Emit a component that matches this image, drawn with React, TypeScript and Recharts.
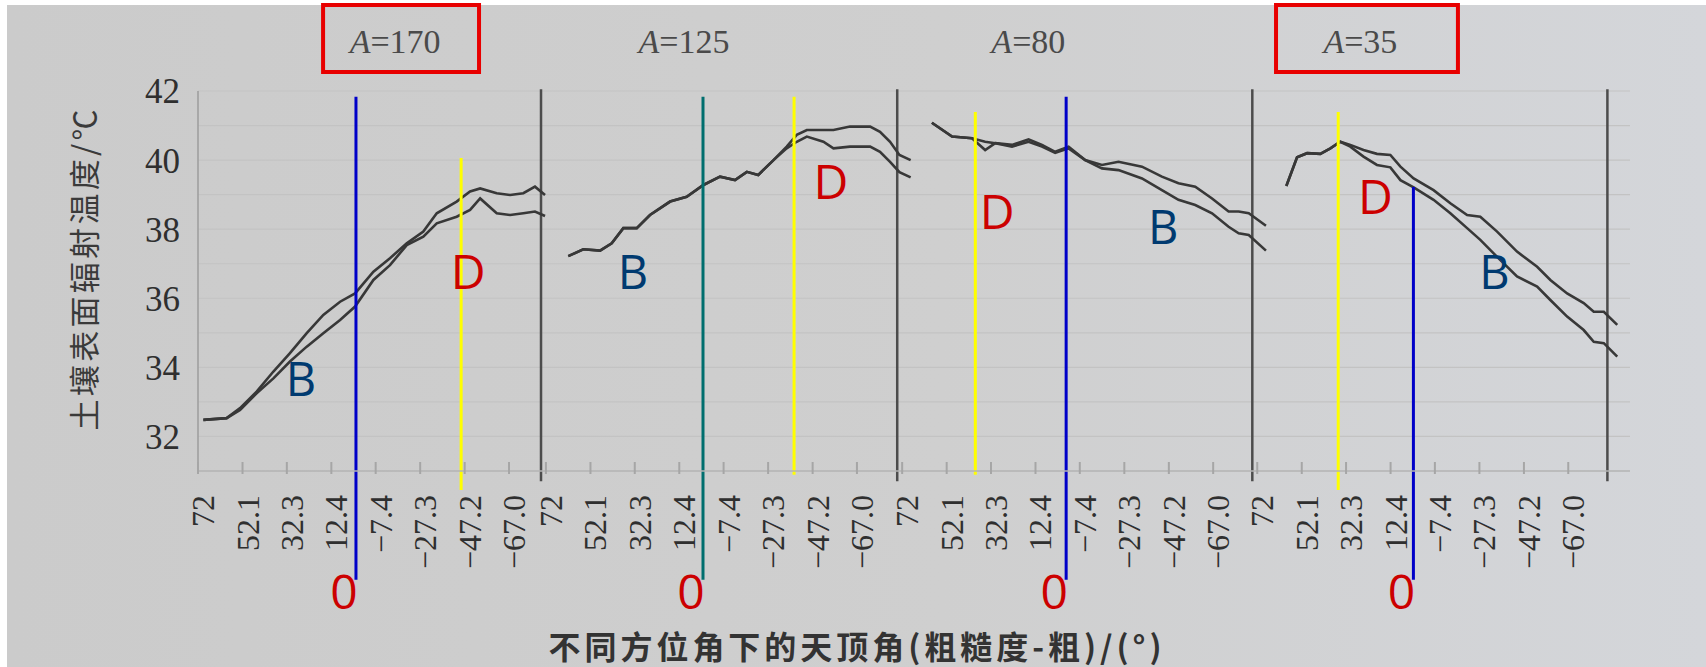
import { CartesianGrid, Line, LineChart, ReferenceArea, ReferenceDot, ReferenceLine, XAxis, YAxis } from "recharts"

// azimuth of each panel, left to right
const azimuths = ["170", "125", "80", "35"]
const boxedPanels = [0, 3]

const zenithTicks = [72, 52.1, 32.3, 12.4, -7.4, -27.3, -47.2, -67.0]
const zenithTickLabels = ["72", "52.1", "32.3", "12.4", "−7.4", "−27.3", "−47.2", "−67.0"]
const tempTicks = [32, 34, 36, 38, 40, 42]
const gridTemps = [32, 33, 34, 35, 36, 37, 38, 39, 40, 41, 42]

// A=170
const a170Zenith = [69.6, 59.2, 53.2, 45.8, 38.3, 30.9, 23.4, 16.0, 8.5, 1.8, -6.4, -13.8, -21.3, -28.7, -34.7, -43.6, -49.6, -54.1, -61.5, -67.5, -73.4, -78.6, -83.1]
const a170Upper = [32.48, 32.53, 32.82, 33.3, 33.88, 34.41, 34.99, 35.52, 35.9, 36.14, 36.77, 37.16, 37.59, 37.93, 38.46, 38.8, 39.09, 39.18, 39.04, 38.99, 39.04, 39.23, 38.99]
const a170Lower = [32.48, 32.53, 32.77, 33.25, 33.68, 34.17, 34.6, 34.99, 35.37, 35.76, 36.53, 36.96, 37.54, 37.78, 38.17, 38.36, 38.56, 38.89, 38.46, 38.41, 38.46, 38.51, 38.38]

// A=125
const a125Zenith = [62.0, 55.3, 47.8, 42.6, 37.4, 31.4, 25.5, 16.5, 9.1, 1.6, -5.8, -12.5, -17.8, -22.9, -29.7, -35.6, -40.1, -44.6, -52.0, -56.5, -63.9, -72.9, -77.3, -81.8, -86.0, -91.0]
const a125Upper = [37.22, 37.42, 37.38, 37.59, 38.03, 38.03, 38.41, 38.8, 38.94, 39.28, 39.52, 39.42, 39.66, 39.57, 40.0, 40.39, 40.73, 40.87, 40.87, 40.87, 40.97, 40.97, 40.82, 40.53, 40.15, 40.0]
const a125Lower = [37.22, 37.42, 37.38, 37.59, 38.03, 38.03, 38.41, 38.8, 38.94, 39.28, 39.52, 39.42, 39.66, 39.57, 40.0, 40.34, 40.53, 40.68, 40.53, 40.34, 40.39, 40.39, 40.24, 39.95, 39.65, 39.5]

// A=80
const a80Zenith = [58.7, 49.7, 40.8, 34.9, 30.4, 22.9, 15.5, 9.5, 3.6, -2.4, -9.8, -17.3, -24.7, -35.2, -44.1, -51.5, -59.0, -66.5, -73.9, -78.4, -82.9, -90.6]
const a80Upper = [41.08, 40.68, 40.63, 40.53, 40.49, 40.44, 40.6, 40.44, 40.24, 40.39, 40.0, 39.86, 39.95, 39.81, 39.52, 39.33, 39.23, 38.89, 38.51, 38.51, 38.46, 38.1]
const a80Lower = [41.08, 40.68, 40.63, 40.29, 40.49, 40.39, 40.53, 40.39, 40.21, 40.34, 40.0, 39.76, 39.71, 39.47, 39.13, 38.85, 38.7, 38.46, 38.07, 37.88, 37.83, 37.38]

// A=35
const a35Zenith = [59.0, 54.2, 49.7, 43.8, 39.3, 34.9, 30.4, 24.5, 18.5, 12.5, 8.0, 2.1, -6.8, -14.3, -21.8, -27.7, -35.2, -44.1, -53.1, -59.0, -66.5, -73.9, -78.4, -82.9, -88.9]
const a35Upper = [39.25, 40.08, 40.2, 40.18, 40.34, 40.53, 40.44, 40.29, 40.18, 40.15, 39.81, 39.47, 39.13, 38.75, 38.41, 38.36, 37.93, 37.35, 36.91, 36.53, 36.14, 35.86, 35.61, 35.61, 35.23]
const a35Lower = [39.25, 40.08, 40.2, 40.18, 40.34, 40.53, 40.39, 40.1, 39.86, 39.79, 39.42, 39.21, 38.85, 38.46, 38.03, 37.69, 37.2, 36.63, 36.34, 35.95, 35.47, 35.08, 34.74, 34.7, 34.31]

// hand-drawn marks on the figure (zenith / temperature per panel)
const zeroLineZenith = [1.4, 1.8, -1.3, 2.2]
const zeroLineTop = [41.83, 41.83, 41.83, 39.22]
const zeroLineColor = ["#0000c8", "#006e6e", "#0000c8", "#0000c8"]
const yellowZenith = [-45.6, -38.9, 39.3, 35.8]
const yellowTop = [40.06, 41.83, 41.39, 41.39]
const yellowBottom = [30.45, 30.89, 30.89, 30.45]
const dZenith = [-48.7, -55.4, 29.5, 19.2]
const dTemp = [36.76, 39.37, 38.5, 38.93]
const bZenith = [26.0, 33.1, -44.7, -34.0]
const bTemp = [33.66, 36.76, 38.06, 36.76]
const titleZenith = [-16.1, 10.3, 15.6, 25.9]
const boxZenith = [[16.1, -53.6], [63.6, -17.7]]

// panels share one x axis, each one shifted along it
const PANEL_OFFSET = [0, 153.3, 312.5, 471.2]
const PANEL_START = [72, 74.2, 74.2, 74.2]
const PANEL_RIGHT = 629.9
const X_MAX = 640
const MARK_BOTTOM = 27.85
const ZERO_TEXT_Y = 27.5
const TITLE_Y = 43.1

const toX = (p: number, z: number) => PANEL_OFFSET[p] + PANEL_START[p] - z

const panels = [
  { zenith: a170Zenith, upper: a170Upper, lower: a170Lower },
  { zenith: a125Zenith, upper: a125Upper, lower: a125Lower },
  { zenith: a80Zenith, upper: a80Upper, lower: a80Lower },
  { zenith: a35Zenith, upper: a35Upper, lower: a35Lower },
]

const series = panels.flatMap((pn, p) =>
  [pn.upper, pn.lower].map((vals) => pn.zenith.map((z, i) => ({ x: toX(p, z), t: vals[i] })))
)

const xTicks = azimuths.flatMap((_, p) => zenithTicks.map((z) => toX(p, z)))

const serif = '"Liberation Serif", "DejaVu Serif", serif'
const sans = '"Open Sans", "Liberation Sans", sans-serif'
const cjk = '"Noto Sans CJK SC", sans-serif'

function ZenithTick(props: any) {
  const { x, y, payload } = props
  const i = xTicks.findIndex((v) => Math.abs(v - payload.value) < 1e-6)
  const label = zenithTickLabels[(i < 0 ? 0 : i) % 8]
  return (
    <g>
      <line x1={x} x2={x} y1={y - 9} y2={y + 3} stroke="#a6a6a6" strokeWidth={2} />
      <text
        transform={`translate(${x + 5},${y + 24}) rotate(-90)`}
        textAnchor="end"
        dominantBaseline="central"
        fontSize={32}
        fontFamily={serif}
        fill="#2f2f2f"
      >
        {label}
      </text>
    </g>
  )
}

const letter = (text: string, color: string, size: number, dx = 0) => (p: any) => (
  <text x={p.cx + dx} y={p.cy + size * 0.36} textAnchor="middle" fill={color} fontSize={size} fontFamily={sans}>
    {text}
  </text>
)

const title = (az: string) => (p: any) => (
  <text x={p.cx} y={p.cy} textAnchor="middle" fontSize={34} fontFamily={serif} fill="#4a4a4a">
    <tspan fontStyle="italic">A</tspan>={az}
  </text>
)

function YTitle(props: any) {
  const vb = props.viewBox
  const cx = vb.x - 56
  const cy = vb.y + 179
  return (
    <text
      transform={`translate(${cx},${cy}) rotate(-90)`}
      textAnchor="middle"
      dominantBaseline="central"
      fontSize={31}
      fontFamily={cjk}
      fill="#3a3a3a"
      textLength={321}
      lengthAdjust="spacing"
    >
      土壤表面辐射温度/℃
    </text>
  )
}

function XTitle(props: any) {
  const vb = props.viewBox
  return (
    <text
      x={vb.x + 657}
      y={vb.y + 188}
      textAnchor="middle"
      fontSize={32}
      fontWeight={700}
      fontFamily={cjk}
      fill="#333"
      textLength={613}
      lengthAdjust="spacing"
    >
      不同方位角下的天顶角(粗糙度-粗)/(°)
    </text>
  )
}

export default function App() {
  return (
    <div style={{ position: "absolute", left: 0, top: 0, width: 1706, height: 667, background: "#fff", overflow: "hidden" }}>
      <div
        style={{
          position: "absolute",
          left: 7,
          top: 5,
          right: 0,
          bottom: 0,
          background: "linear-gradient(90deg, #cbcbcb 0%, #cfcfcf 55%, #d4d6da 100%)",
        }}
      />
      <div style={{ position: "absolute", left: 0, top: 0 }}>
        <LineChart width={1706} height={667} margin={{ top: 91, right: 76, bottom: 0, left: 138 }}>
          <CartesianGrid vertical={false} horizontalValues={gridTemps} stroke="#c3c3c3" strokeWidth={1.2} />
          <XAxis
            type="number"
            dataKey="x"
            domain={[0, X_MAX]}
            ticks={xTicks}
            interval={0}
            allowDataOverflow
            height={196}
            tickLine={false}
            tickSize={0}
            tickMargin={0}
            axisLine={{ stroke: "#b3b3b3", strokeWidth: 1.5 }}
            tick={<ZenithTick />}
            label={<XTitle />}
          />
          <YAxis
            type="number"
            domain={[31, 42]}
            ticks={tempTicks}
            interval={0}
            allowDataOverflow
            width={60}
            tickLine={false}
            tickMargin={12}
            axisLine={{ stroke: "#9c9c9c", strokeWidth: 1.5 }}
            tick={{ fontSize: 35, fill: "#2f2f2f", fontFamily: serif }}
            label={<YTitle />}
          />
          {[...PANEL_OFFSET.slice(1), PANEL_RIGHT].map((x, i) => (
            <ReferenceLine
              key={`sep${i}`}
              segment={[{ x, y: 42.05 }, { x, y: 30.7 }]}
              stroke="#4c4c4c"
              strokeWidth={2.5}
              ifOverflow="visible"
            />
          ))}
          {series.map((d, i) => (
            <Line
              key={`s${i}`}
              data={d}
              dataKey="t"
              type="linear"
              dot={false}
              stroke="#383838"
              strokeWidth={2.6}
              isAnimationActive={false}
            />
          ))}
          {azimuths.map((az, p) => (
            <ReferenceDot
              key={`title${p}`}
              x={toX(p, titleZenith[p])}
              y={TITLE_Y}
              r={0}
              ifOverflow="visible"
              shape={title(az)}
            />
          ))}
          {boxedPanels.map((p, i) => (
            <ReferenceArea
              key={`box${p}`}
              x1={toX(p, boxZenith[i][0])}
              x2={toX(p, boxZenith[i][1])}
              y1={42.55}
              y2={44.49}
              fill="none"
              stroke="#e80000"
              strokeWidth={4}
              ifOverflow="visible"
              isFront
            />
          ))}
          {azimuths.map((_, p) => (
            <ReferenceLine
              key={`y${p}`}
              segment={[{ x: toX(p, yellowZenith[p]), y: yellowTop[p] }, { x: toX(p, yellowZenith[p]), y: yellowBottom[p] }]}
              stroke="#ffff00"
              strokeWidth={3}
              ifOverflow="visible"
              isFront
            />
          ))}
          {azimuths.map((_, p) => (
            <ReferenceLine
              key={`z${p}`}
              segment={[{ x: toX(p, zeroLineZenith[p]), y: zeroLineTop[p] }, { x: toX(p, zeroLineZenith[p]), y: MARK_BOTTOM }]}
              stroke={zeroLineColor[p]}
              strokeWidth={3}
              ifOverflow="visible"
              isFront
            />
          ))}
          {azimuths.map((_, p) => (
            <ReferenceDot
              key={`zt${p}`}
              x={toX(p, zeroLineZenith[p])}
              y={ZERO_TEXT_Y}
              r={0}
              ifOverflow="visible"
              isFront
              shape={letter("0", "#cc0000", 48, -12)}
            />
          ))}
          {azimuths.map((_, p) => (
            <ReferenceDot
              key={`d${p}`}
              x={toX(p, dZenith[p])}
              y={dTemp[p]}
              r={0}
              ifOverflow="visible"
              isFront
              shape={letter("D", "#cc0000", 48)}
            />
          ))}
          {azimuths.map((_, p) => (
            <ReferenceDot
              key={`b${p}`}
              x={toX(p, bZenith[p])}
              y={bTemp[p]}
              r={0}
              ifOverflow="visible"
              isFront
              shape={letter("B", "#003a70", 47)}
            />
          ))}
        </LineChart>
      </div>
    </div>
  )
}
